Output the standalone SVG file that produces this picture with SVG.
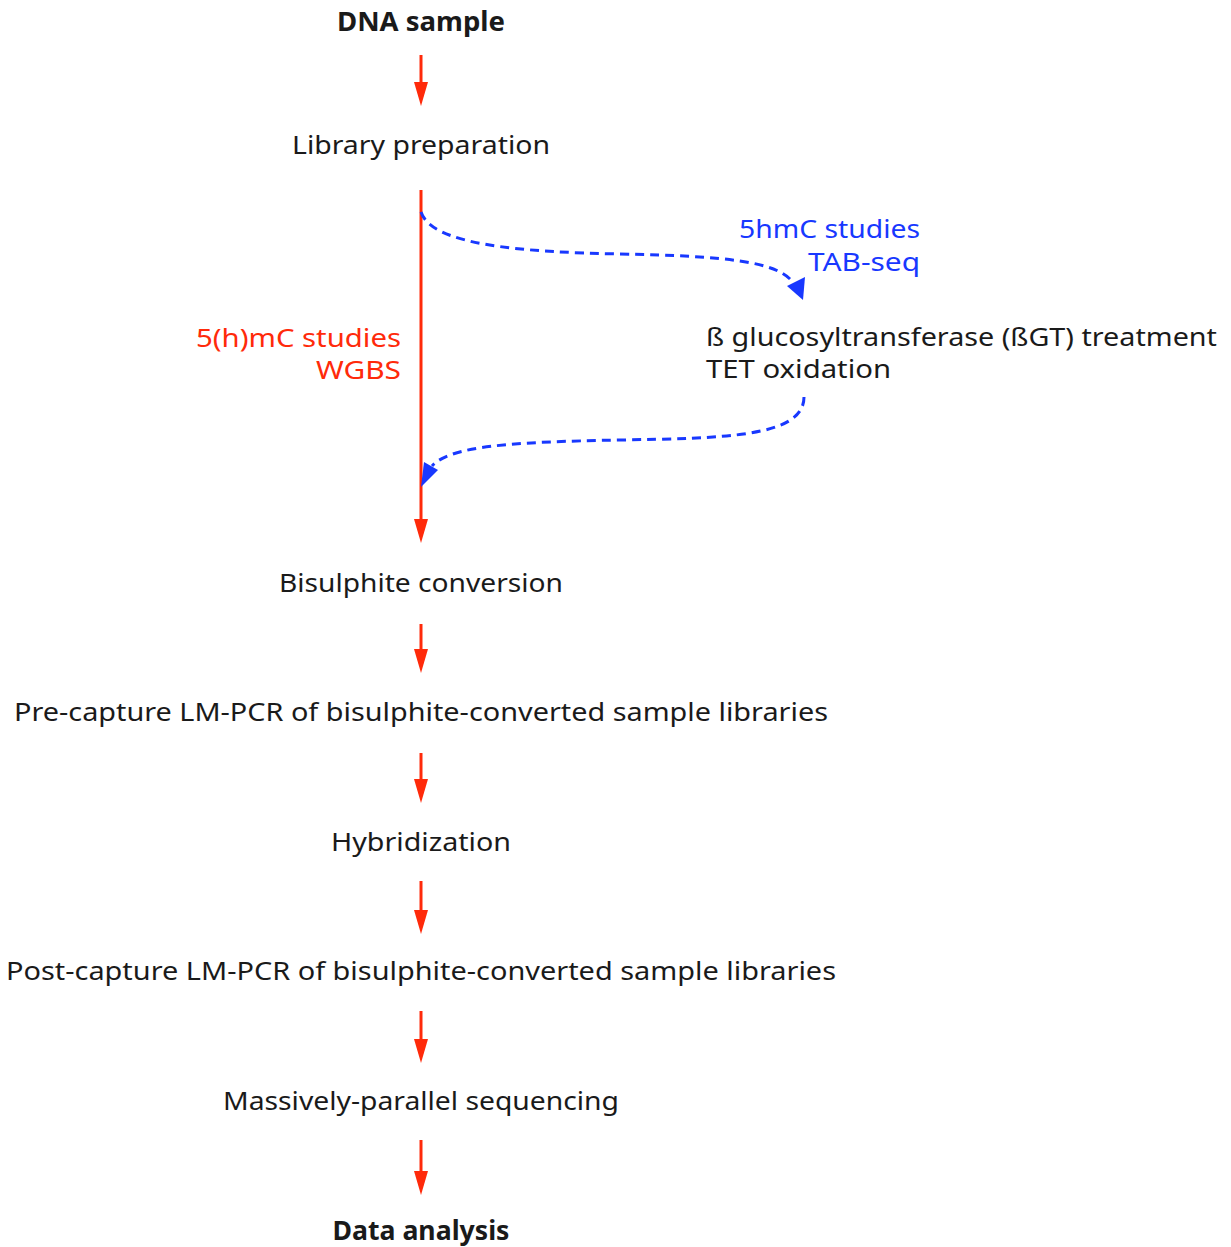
<svg xmlns="http://www.w3.org/2000/svg" width="1231" height="1247" viewBox="0 0 1231 1247">
<style>
text{font-family:"Noto Sans","DejaVu Sans",sans-serif;font-size:26px;fill:#1a1a1a}
.b{font-weight:bold}
.c{text-anchor:middle}
.r{text-anchor:end}
.red{fill:#ff2a0a}
.blue{fill:#1838ff}
.ra{stroke:#ff2a0a;stroke-width:3;fill:none}
.bd{stroke:#1838ff;stroke-width:3;fill:none;stroke-dasharray:9,6}
</style>
<defs>
<marker id="rh" markerWidth="24" markerHeight="14" refX="12" refY="7" orient="auto" markerUnits="userSpaceOnUse" viewBox="0 0 24 14">
<path d="M0,0 L24,7 L0,14 Z" fill="#ff2a0a"/>
</marker>
</defs>
<rect width="1231" height="1247" fill="#fff"/>
<g id="n-dna"><text class="c b" x="421" y="31" textLength="168" lengthAdjust="spacingAndGlyphs">DNA sample</text></g>
<g id="n-lib"><text class="c" x="421" y="154" textLength="258" lengthAdjust="spacingAndGlyphs">Library preparation</text></g>
<g id="n-5hmc"><text class="r blue" x="920" y="238" textLength="181" lengthAdjust="spacingAndGlyphs">5hmC studies</text><text class="r blue" x="920" y="271" textLength="112" lengthAdjust="spacingAndGlyphs">TAB-seq</text></g>
<g id="n-5hmc2"><text class="r red" x="401" y="347" textLength="205" lengthAdjust="spacingAndGlyphs">5(h)mC studies</text><text class="r red" x="401" y="379" textLength="85" lengthAdjust="spacingAndGlyphs">WGBS</text></g>
<g id="n-bgt" style="font-size:25px"><text x="706" y="346" textLength="511" lengthAdjust="spacingAndGlyphs" style="font-size:25px">ß glucosyltransferase (ßGT) treatment</text><text x="706" y="378" textLength="185" lengthAdjust="spacingAndGlyphs" style="font-size:25px">TET oxidation</text></g>
<g id="n-bis"><text class="c" x="421" y="592" textLength="284" lengthAdjust="spacingAndGlyphs">Bisulphite conversion</text></g>
<g id="n-pre"><text class="c" x="421" y="721" textLength="814" lengthAdjust="spacingAndGlyphs">Pre-capture LM-PCR of bisulphite-converted sample libraries</text></g>
<g id="n-hyb"><text class="c" x="421" y="851" textLength="180" lengthAdjust="spacingAndGlyphs">Hybridization</text></g>
<g id="n-post"><text class="c" x="421" y="980" textLength="830" lengthAdjust="spacingAndGlyphs">Post-capture LM-PCR of bisulphite-converted sample libraries</text></g>
<g id="n-seq"><text class="c" x="421" y="1110" textLength="396" lengthAdjust="spacingAndGlyphs">Massively-parallel sequencing</text></g>
<g id="n-data"><text class="c b" x="421" y="1240" textLength="177" lengthAdjust="spacingAndGlyphs">Data analysis</text></g>
<g id="connectors">
<line class="ra" x1="421" y1="55" x2="421" y2="94" marker-end="url(#rh)"/>
<line class="ra" x1="421" y1="190" x2="421" y2="531" marker-end="url(#rh)"/>
<line class="ra" x1="421" y1="624" x2="421" y2="661" marker-end="url(#rh)"/>
<line class="ra" x1="421" y1="753" x2="421" y2="791" marker-end="url(#rh)"/>
<line class="ra" x1="421" y1="881" x2="421" y2="922" marker-end="url(#rh)"/>
<line class="ra" x1="421" y1="1011" x2="421" y2="1051" marker-end="url(#rh)"/>
<line class="ra" x1="421" y1="1140" x2="421" y2="1183" marker-end="url(#rh)"/>
<path class="bd" d="M421,212 C432,245 520,252 620,254 C730,256 775,262 792,281"/>
<polygon points="803,300 787,286 805,277" fill="#1838ff"/>
<path class="bd" d="M804,397 C804,438 720,438 620,440 C510,442 450,446 432,466"/>
<polygon points="421,487 424,462 438,470" fill="#1838ff"/>
</g>
</svg>
